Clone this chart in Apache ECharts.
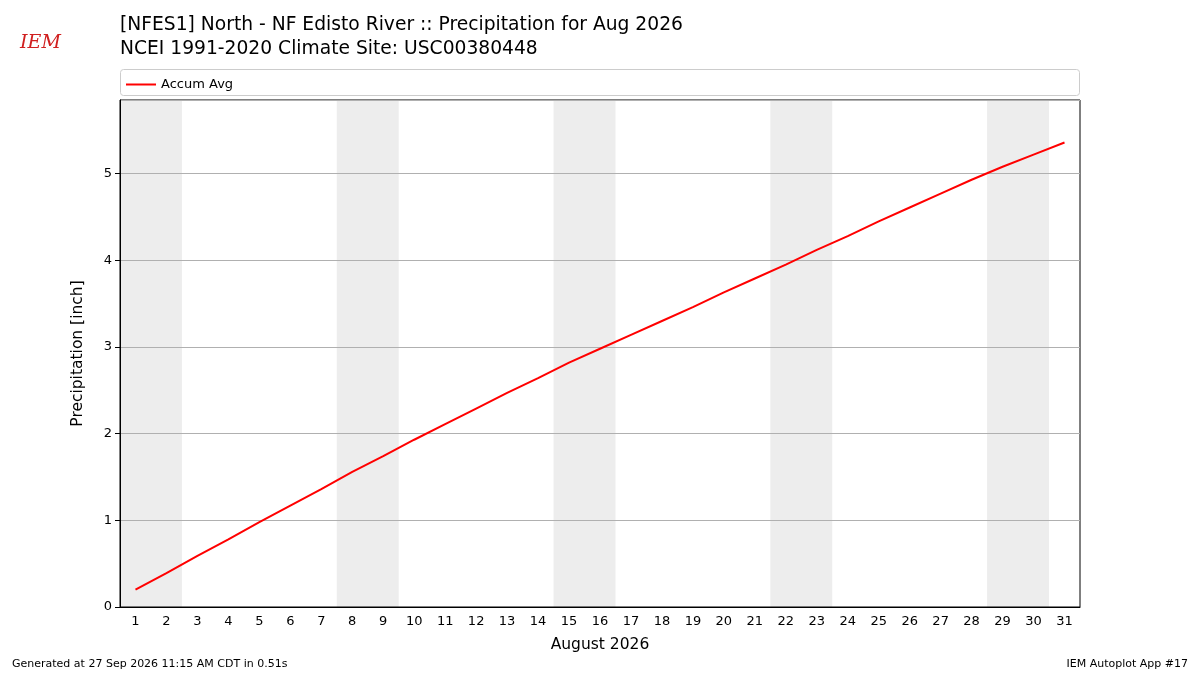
<!DOCTYPE html>
<html>
<head>
<meta charset="utf-8">
<script src="https://cdn.jsdelivr.net/npm/echarts@6/dist/echarts.min.js"></script>
<style>html,body{margin:0;padding:0;background:#fff}#main{width:1200px;height:675px}</style>
</head>
<body>
<div id="main"></div>
<script>
var days = [];
for (var i = 1; i <= 31; i++) days.push(String(i));
var accumAvg = [0.20, 0.39, 0.59, 0.78, 0.98, 1.17, 1.36, 1.56, 1.74, 1.93,
  2.11, 2.29, 2.47, 2.64, 2.82, 2.98, 3.14, 3.30, 3.46, 3.63,
  3.79, 3.95, 4.12, 4.28, 4.45, 4.61, 4.77, 4.93, 5.08, 5.22, 5.36];
// weekend spans as [first day, last day]
var weekends = [[1, 2], [8, 9], [15, 16], [22, 23], [29, 30]];
var yTicks = [0, 1, 2, 3, 4, 5];

var chart = echarts.init(document.getElementById('main'));
chart.setOption({
  animation: false,
  textStyle: { fontFamily: 'DejaVu Sans' },
  graphic: [
    { type: 'text', left: 120, top: 13, style: { text: '[NFES1] North - NF Edisto River :: Precipitation for Aug 2026\nNCEI 1991-2020 Climate Site: USC00380448', font: '18.7px "DejaVu Sans"', fill: '#000', lineHeight: 24 } },
    { type: 'text', left: 20, top: 34, style: { text: 'IEM', font: 'italic 19px "DejaVu Serif"', fill: '#d02020' } },
    { type: 'text', left: 12, top: 659, style: { text: 'Generated at 27 Sep 2026 11:15 AM CDT in 0.51s', font: '11px "DejaVu Sans"', fill: '#000' } },
    { type: 'text', right: 12, top: 659, style: { text: 'IEM Autoplot App #17', font: '11px "DejaVu Sans"', fill: '#000' } },
    { type: 'rect', x: 120.5, y: 69.5, shape: { width: 959, height: 26, r: 3 }, style: { fill: 'none', stroke: '#ccc' } }
  ],
  legend: {
    left: 121, top: 73, itemWidth: 30, itemHeight: 2, icon: 'rect',
    textStyle: { fontSize: 13, color: '#000' },
    data: ['Accum Avg']
  },
  grid: { left: 120, right: 120, top: 100, bottom: 68, show: true, borderColor: '#000', borderWidth: 1, z: 5 },
  xAxis: [{
    type: 'category', data: days, boundaryGap: true, z: 5,
    name: 'August 2026', nameLocation: 'middle', nameGap: 30,
    nameTextStyle: { fontSize: 15.5, color: '#000' },
    axisLine: { lineStyle: { color: '#000' } },
    axisTick: { alignWithLabel: true, lineStyle: { color: '#000' } },
    axisLabel: { color: '#000', fontSize: 13, interval: 0 }
  }, {
    type: 'value', min: 0.5, max: 31.5, show: false
  }],
  yAxis: {
    type: 'value', min: 0, max: 5.85, interval: 1, z: 5,
    name: 'Precipitation [inch]', nameLocation: 'middle', nameGap: 34,
    nameTextStyle: { fontSize: 15.5, color: '#000' },
    axisLine: { show: true, lineStyle: { color: '#000' } },
    axisTick: { show: true, lineStyle: { color: '#000' } },
    axisLabel: { color: '#000', fontSize: 13, showMaxLabel: false,
      formatter: function (v) { return yTicks.indexOf(v) >= 0 ? String(v) : ''; } },
    splitLine: { lineStyle: { color: '#b0b0b0' } }
  },
  series: [{
    type: 'line', xAxisIndex: 1, data: [], silent: true, z: 1,
    markArea: {
      silent: true, itemStyle: { color: '#ededed' },
      data: weekends.map(function (w) { return [{ xAxis: w[0] - 0.5 }, { xAxis: w[1] + 0.5 }]; })
    }
  }, {
    name: 'Accum Avg', type: 'line', data: accumAvg, showSymbol: false, z: 6,
    lineStyle: { color: '#ff0000', width: 2 }, itemStyle: { color: '#ff0000' }
  }]
});
</script>
</body>
</html>
